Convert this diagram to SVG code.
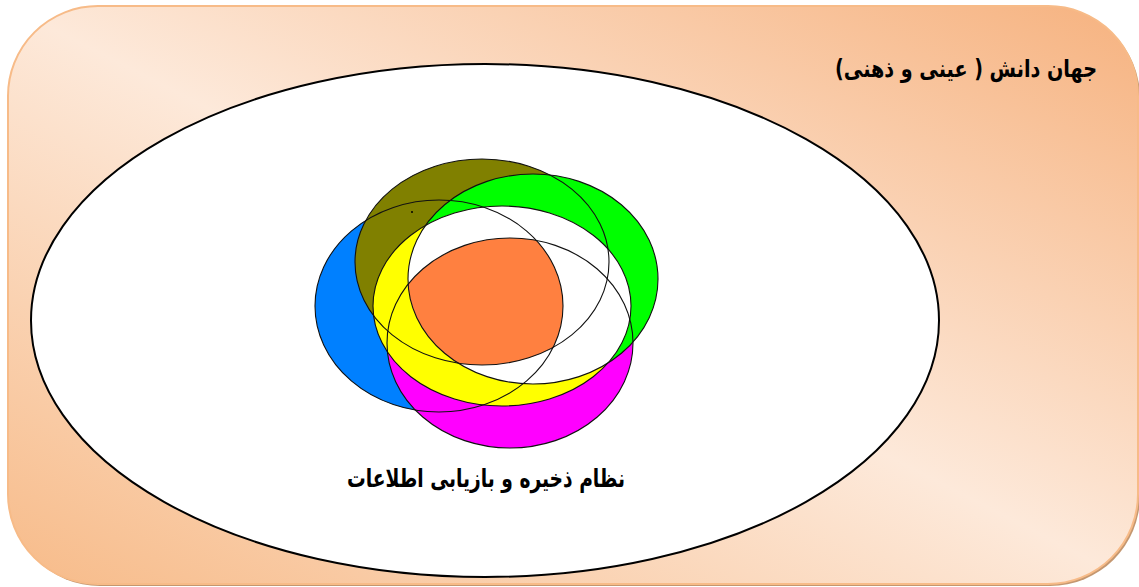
<svg xmlns="http://www.w3.org/2000/svg" width="1139" height="587" viewBox="0 0 1139 587">
<defs>
<linearGradient id="bg" x1="0" y1="1" x2="1" y2="0">
<stop offset="0" stop-color="#f7bb89"/>
<stop offset="0.5" stop-color="#fde9da"/>
<stop offset="1" stop-color="#f6b27f"/>
</linearGradient>
<clipPath id="cB"><ellipse cx="439" cy="306" rx="124" ry="106"/></clipPath>
<clipPath id="cO"><ellipse cx="482" cy="262" rx="127" ry="103"/></clipPath>
<clipPath id="cM"><ellipse cx="510" cy="343" rx="123" ry="105"/></clipPath>
<clipPath id="cG"><ellipse cx="533" cy="279" rx="125" ry="105"/></clipPath>
<clipPath id="cY"><ellipse cx="502" cy="306" rx="129" ry="100"/></clipPath>
</defs>
<style>
.ol{fill:none;stroke:#111;stroke-width:1.1}
.t{font-family:"DejaVu Sans",sans-serif;font-weight:bold;fill:#000}
</style>
<g id="background">
<rect x="10" y="8" width="1130" height="578" rx="90" ry="90" fill="#c49770"/>
<rect x="8" y="6" width="1130" height="578" rx="90" ry="90" fill="url(#bg)" stroke="#f7bb88" stroke-width="2"/>
</g>
<g id="world">
<ellipse cx="485" cy="320.5" rx="454" ry="256.5" fill="#fff" stroke="#000" stroke-width="2"/>
</g>
<g id="system">
<ellipse cx="439" cy="306" rx="124" ry="106" fill="#0080ff"/>
<ellipse cx="482" cy="262" rx="127" ry="103" fill="#808000"/>
<ellipse cx="510" cy="343" rx="123" ry="105" fill="#ff00ff"/>
<ellipse cx="533" cy="279" rx="125" ry="105" fill="#00ff00"/>
<ellipse cx="502" cy="306" rx="129" ry="100" fill="#ffff00"/>
<g clip-path="url(#cY)"><ellipse cx="533" cy="279" rx="125" ry="105" fill="#fff"/></g>
<g clip-path="url(#cB)"><g clip-path="url(#cO)"><g clip-path="url(#cM)"><g clip-path="url(#cG)"><ellipse cx="502" cy="306" rx="129" ry="100" fill="#ff8040"/></g></g></g></g>
<ellipse class="ol" cx="439" cy="306" rx="124" ry="106"/>
<ellipse class="ol" cx="482" cy="262" rx="127" ry="103"/>
<ellipse class="ol" cx="510" cy="343" rx="123" ry="105"/>
<ellipse class="ol" cx="533" cy="279" rx="125" ry="105"/>
<ellipse class="ol" cx="502" cy="306" rx="129" ry="100"/>
<circle cx="412" cy="212" r="1" fill="#000"/>
</g>
<g id="labels">
<text class="t" transform="translate(966,77) scale(1,1.2)" x="0" y="0" font-size="20" direction="rtl" text-anchor="middle" textLength="262" lengthAdjust="spacingAndGlyphs">جهان دانش ( عینی و ذهنی)</text>
<text class="t" transform="translate(486,487) scale(1,1.2)" x="0" y="0" font-size="21" direction="rtl" text-anchor="middle" textLength="278" lengthAdjust="spacingAndGlyphs">نظام ذخیره و بازیابی اطلاعات</text>
</g>
</svg>
